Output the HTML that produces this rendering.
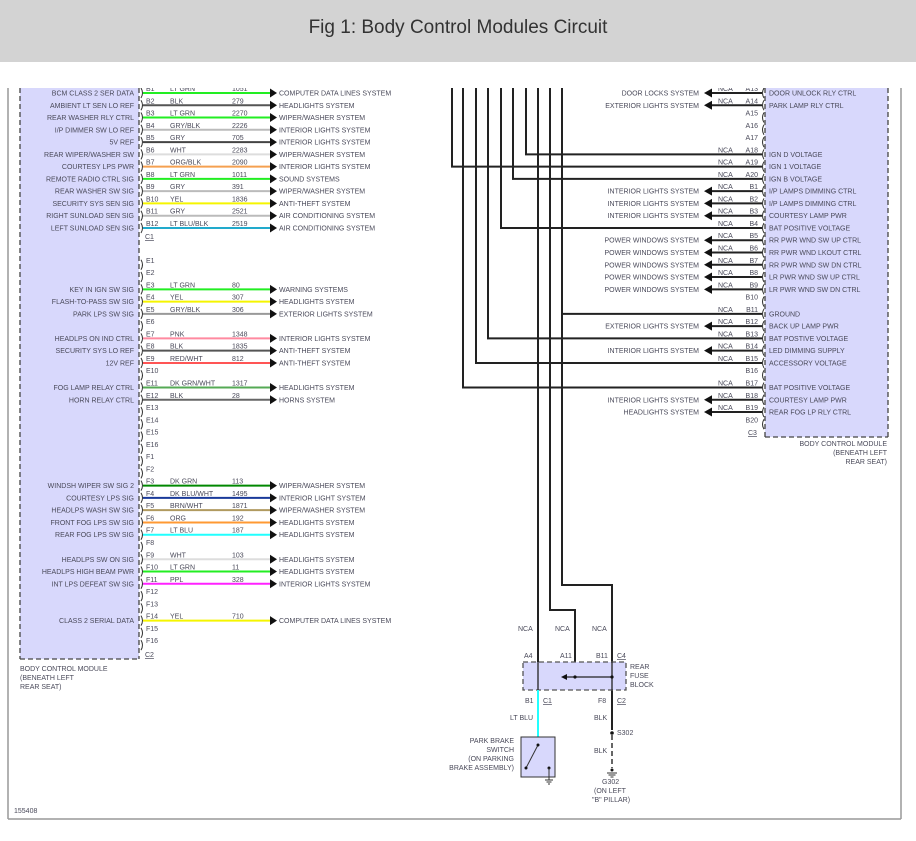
<!DOCTYPE html>
<html><head><meta charset="utf-8">
<style>
html,body{margin:0;padding:0;background:#fff;width:916px;height:841px;overflow:hidden}
#hdr{position:absolute;left:0;top:0;width:916px;height:62px;background:#d3d3d3;font-family:"Liberation Sans",sans-serif;font-size:19px;color:#333;text-align:center;line-height:56px}
svg{position:absolute;left:0;top:0}
text{font-family:"Liberation Sans",sans-serif;font-size:7px;fill:#4a4a5a}
</style></head><body>
<div id="hdr">Fig 1: Body Control Modules Circuit</div>
<svg id="s" width="916" height="841" xmlns="http://www.w3.org/2000/svg">
<defs><clipPath id="c"><rect x="0" y="88" width="916" height="760"/></clipPath></defs>
<g id="g" clip-path="url(#c)"></g>
</svg>
<script>
var g=document.getElementById('g'),NS='http://www.w3.org/2000/svg';
function el(t,a,txt){var e=document.createElementNS(NS,t);for(var k in a)e.setAttribute(k,a[k]);if(txt!=null)e.textContent=txt;g.appendChild(e);return e;}
function ln(x1,y1,x2,y2,c,w,d){var a={x1:x1,y1:y1,x2:x2,y2:y2,stroke:c||'#222','stroke-width':w||1.5};if(d)a['stroke-dasharray']=d;return el('line',a);}
function tx(x,y,s,anc,extra){var a={x:x,y:y};if(anc)a['text-anchor']=anc;for(var k in extra||{})a[k]=extra[k];return el('text',a,s);}
function Y(i){return 93+12.27*i;}
// frame
ln(8,80,8,819,'#999',1.5);ln(8,819,901,819,'#999',1.5);ln(901,80,901,819,'#999',1.5);
// left module
el('rect',{x:20,y:80,width:119,height:579,fill:'#d8d8fc'});
ln(20,80,20,659,'#444',1.3,'5,3');ln(139,80,139,659,'#444',1.3,'5,3');ln(20,659,139,659,'#444',1.3,'5,3');
var L={0:['B1','LT GRN','1051','#22ee22','COMPUTER DATA LINES SYSTEM','BCM CLASS 2 SER DATA'],
1:['B2','BLK','279','#555','HEADLIGHTS SYSTEM','AMBIENT LT SEN LO REF'],
2:['B3','LT GRN','2270','#22ee22','WIPER/WASHER SYSTEM','REAR WASHER RLY CTRL'],
3:['B4','GRY/BLK','2226','#bbb','INTERIOR LIGHTS SYSTEM','I/P DIMMER SW LO REF'],
4:['B5','GRY','705','#444','INTERIOR LIGHTS SYSTEM','5V REF'],
5:['B6','WHT','2283','#ddd','WIPER/WASHER SYSTEM','REAR WIPER/WASHER SW'],
6:['B7','ORG/BLK','2090','#f5a050','INTERIOR LIGHTS SYSTEM','COURTESY LPS PWR'],
7:['B8','LT GRN','1011','#22ee22','SOUND SYSTEMS','REMOTE RADIO CTRL SIG'],
8:['B9','GRY','391','#bbb','WIPER/WASHER SYSTEM','REAR WASHER SW SIG'],
9:['B10','YEL','1836','#f5f500','ANTI-THEFT SYSTEM','SECURITY SYS SEN SIG'],
10:['B11','GRY','2521','#bbb','AIR CONDITIONING SYSTEM','RIGHT SUNLOAD SEN SIG'],
11:['B12','LT BLU/BLK','2519','#22aacc','AIR CONDITIONING SYSTEM','LEFT SUNLOAD SEN SIG'],
14:['E1'],15:['E2'],
16:['E3','LT GRN','80','#22ee22','WARNING SYSTEMS','KEY IN IGN SW SIG'],
17:['E4','YEL','307','#f5f500','HEADLIGHTS SYSTEM','FLASH-TO-PASS SW SIG'],
18:['E5','GRY/BLK','306','#999','EXTERIOR LIGHTS SYSTEM','PARK LPS SW SIG'],
19:['E6'],
20:['E7','PNK','1348','#ff8aa0','INTERIOR LIGHTS SYSTEM','HEADLPS ON IND CTRL'],
21:['E8','BLK','1835','#555','ANTI-THEFT SYSTEM','SECURITY SYS LO REF'],
22:['E9','RED/WHT','812','#ff5555','ANTI-THEFT SYSTEM','12V REF'],
23:['E10'],
24:['E11','DK GRN/WHT','1317','#55aa55','HEADLIGHTS SYSTEM','FOG LAMP RELAY CTRL'],
25:['E12','BLK','28','#666','HORNS SYSTEM','HORN RELAY CTRL'],
26:['E13'],27:['E14'],28:['E15'],29:['E16'],30:['F1'],31:['F2'],
32:['F3','DK GRN','113','#008800','WIPER/WASHER SYSTEM','WINDSH WIPER SW SIG 2'],
33:['F4','DK BLU/WHT','1495','#1a3a9a','INTERIOR LIGHT SYSTEM','COURTESY LPS SIG'],
34:['F5','BRN/WHT','1871','#b09a60','WIPER/WASHER SYSTEM','HEADLPS WASH SW SIG'],
35:['F6','ORG','192','#ff9933','HEADLIGHTS SYSTEM','FRONT FOG LPS SW SIG'],
36:['F7','LT BLU','187','#22ffff','HEADLIGHTS SYSTEM','REAR FOG LPS SW SIG'],
37:['F8'],
38:['F9','WHT','103','#ddd','HEADLIGHTS SYSTEM','HEADLPS SW ON SIG'],
39:['F10','LT GRN','11','#22ee22','HEADLIGHTS SYSTEM','HEADLPS HIGH BEAM PWR'],
40:['F11','PPL','328','#ff22ff','INTERIOR LIGHTS SYSTEM','INT LPS DEFEAT SW SIG'],
41:['F12'],42:['F13'],
43:['F14','YEL','710','#f5f500','COMPUTER DATA LINES SYSTEM','CLASS 2 SERIAL DATA'],
44:['F15'],45:['F16']};
for(var i in L){var r=L[i],y=Y(+i);
 el('path',{d:'M141,'+(y-5)+' q3,5 0,10',fill:'none',stroke:'#333','stroke-width':1});
 tx(146,y-2,r[0]);
 if(r.length>1){ln(143,y,270,y,r[3],2);el('polygon',{points:'270,'+(y-4.5)+' 277,'+y+' 270,'+(y+4.5),fill:'#111'});
  tx(170,y-2,r[1]);tx(232,y-2,r[2]);tx(279,y+2.5,r[4]);tx(134,y+2.5,r[5],'end');}
}
tx(145,239,'C1',null,{'text-decoration':'underline'});tx(145,657,'C2',null,{'text-decoration':'underline'});
tx(20,671,'BODY CONTROL MODULE');tx(20,680,'(BENEATH LEFT');tx(20,689,'REAR SEAT)');
tx(14,813,'155408');
// right module
el('rect',{x:765,y:80,width:123,height:357,fill:'#d8d8fc'});
ln(765,80,765,437,'#444',1.3,'5,3');ln(888,80,888,437,'#444',1.3,'5,3');ln(765,437,888,437,'#444',1.3,'5,3');
var R={0:['A13','DOOR LOCKS SYSTEM','DOOR UNLOCK RLY CTRL'],1:['A14','EXTERIOR LIGHTS SYSTEM','PARK LAMP RLY CTRL'],
2:['A15'],3:['A16'],4:['A17'],5:['A18',526,'IGN D VOLTAGE'],6:['A19',452,'IGN 1 VOLTAGE'],7:['A20',513,'IGN B VOLTAGE'],
8:['B1','INTERIOR LIGHTS SYSTEM','I/P LAMPS DIMMING CTRL'],9:['B2','INTERIOR LIGHTS SYSTEM','I/P LAMPS DIMMING CTRL'],
10:['B3','INTERIOR LIGHTS SYSTEM','COURTESY LAMP PWR'],11:['B4',501,'BAT POSITIVE VOLTAGE'],
12:['B5','POWER WINDOWS SYSTEM','RR PWR WND SW UP CTRL'],13:['B6','POWER WINDOWS SYSTEM','RR PWR WND LKOUT CTRL'],
14:['B7','POWER WINDOWS SYSTEM','RR PWR WND SW DN CTRL'],15:['B8','POWER WINDOWS SYSTEM','LR PWR WND SW UP CTRL'],
16:['B9','POWER WINDOWS SYSTEM','LR PWR WND SW DN CTRL'],17:['B10'],18:['B11',562,'GROUND'],
19:['B12','EXTERIOR LIGHTS SYSTEM','BACK UP LAMP PWR'],20:['B13',488,'BAT POSTIVE VOLTAGE'],
21:['B14','INTERIOR LIGHTS SYSTEM','LED DIMMING SUPPLY'],22:['B15',476,'ACCESSORY VOLTAGE'],23:['B16'],
24:['B17',463,'BAT POSITIVE VOLTAGE'],25:['B18','INTERIOR LIGHTS SYSTEM','COURTESY LAMP PWR'],
26:['B19','HEADLIGHTS SYSTEM','REAR FOG LP RLY CTRL'],27:['B20']};
for(var i in R){var r=R[i],y=Y(+i);
 el('path',{d:'M764,'+(y-5)+' q-3,5 0,10',fill:'none',stroke:'#333','stroke-width':1});
 tx(758,y-2,r[0],'end');
 if(r.length>1){tx(718,y-2,'NCA');tx(769,y+2.5,r[2]);
  if(typeof r[1]=='number'){ln(r[1],80,r[1],y+0.7,'#222',2);ln(r[1]-1,y,762,y,'#222',2);}
  else{ln(712,y,762,y,'#222',2);el('polygon',{points:'712,'+(y-4.5)+' 704,'+y+' 712,'+(y+4.5),fill:'#111'});tx(699,y+2.5,r[1],'end');}
 }
}
tx(748,435,'C3',null,{'text-decoration':'underline'});
tx(887,446,'BODY CONTROL MODULE','end');tx(887,455,'(BENEATH LEFT','end');tx(887,464,'REAR SEAT)','end');
// vertical lines to fuse block
ln(538,80,538,740,'#222',2);
ln(550,80,550,610,'#222',2);ln(549,610,576,610,'#222',2);ln(575,610,575,677,'#222',2);
ln(562,80,562,585,'#222',2);ln(561,585,613,585,'#222',2);ln(612,585,612,730,'#222',2);
// fuse block
el('rect',{x:523,y:662,width:103,height:28,fill:'#d8d8fc',stroke:'#555','stroke-width':1.3,'stroke-dasharray':'5,3'});
ln(538,662,538,690,'#222',1.3);ln(612,662,612,690,'#222',1.3);
ln(566,677,612,677,'#222',1.3);el('polygon',{points:'567,674 561,677 567,680',fill:'#111'});
el('circle',{cx:575,cy:677,r:1.6,fill:'#111'});el('circle',{cx:612,cy:677,r:1.6,fill:'#111'});
ln(538,690,538,737,'#22ffff',2);
tx(518,631,'NCA');tx(555,631,'NCA');tx(592,631,'NCA');
tx(524,658,'A4');tx(560,658,'A11');tx(596,658,'B11');tx(617,658,'C4',null,{'text-decoration':'underline'});
tx(630,669,'REAR');tx(630,678,'FUSE');tx(630,687,'BLOCK');
tx(525,703,'B1');tx(543,703,'C1',null,{'text-decoration':'underline'});
tx(598,703,'F8');tx(617,703,'C2',null,{'text-decoration':'underline'});
tx(510,720,'LT BLU');tx(594,720,'BLK');
// switch
el('rect',{x:521,y:737,width:34,height:40,fill:'#d8d8fc',stroke:'#333','stroke-width':1});
ln(538,745,526,768,'#333',1);el('circle',{cx:538,cy:745,r:1.5,fill:'#111'});el('circle',{cx:526,cy:768,r:1.5,fill:'#111'});
el('circle',{cx:549,cy:768,r:1.5,fill:'#111'});ln(549,768,549,780,'#333',1);
ln(545,780,553,780,'#333',1);ln(546.5,782,551.5,782,'#333',1);ln(548,784,550,784,'#333',1);
tx(514,743,'PARK BRAKE','end');tx(514,752,'SWITCH','end');tx(514,761,'(ON PARKING','end');tx(514,770,'BRAKE ASSEMBLY)','end');
// S302/G302
el('circle',{cx:612,cy:733,r:1.8,fill:'#111'});tx(617,735,'S302');
ln(612,735,612,768,'#333',1.5,'5,3');tx(594,753,'BLK');
el('circle',{cx:612,cy:770,r:1.5,fill:'#111'});
ln(607,773,617,773,'#333',1);ln(608.5,775,615.5,775,'#333',1);ln(610.5,777,613.5,777,'#333',1);
tx(602,784,'G302');tx(594,793,'(ON LEFT');tx(592,802,'"B" PILLAR)');
</script>
</body></html>
